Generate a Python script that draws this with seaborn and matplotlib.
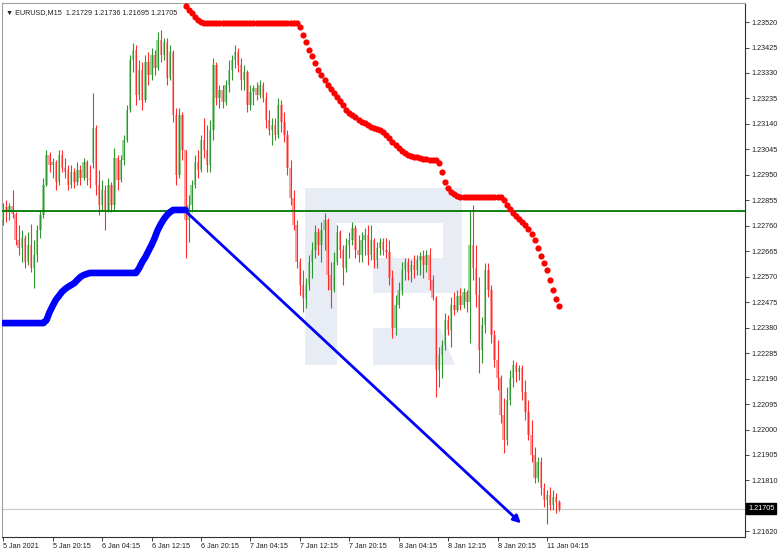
import numpy as np
import pandas as pd
import matplotlib
matplotlib.use("Agg")
import matplotlib.pyplot as plt
import matplotlib.transforms as mtransforms
from matplotlib.patches import Polygon
import seaborn as sns

sns.set_theme(style="white")
plt.rcParams['font.family'] = ['Liberation Sans', 'DejaVu Sans']

# ---------------- data ----------------
header = "\u25BC EURUSD,M15  1.21729 1.21736 1.21695 1.21705"

opens = [1.22781, 1.22830, 1.22811, 1.22834, 1.22804, 1.22707, 1.22677, 1.22714, 1.22625, 1.22688,
         1.22602, 1.22651, 1.22744, 1.22800, 1.22912, 1.23024, 1.22986, 1.22998, 1.22924, 1.23024,
         1.22975, 1.22968, 1.22912, 1.22961, 1.22924, 1.22968, 1.22938, 1.22998, 1.22938, 1.22994,
         1.23124, 1.22912, 1.22837, 1.22893, 1.22819, 1.22912, 1.22837, 1.23013, 1.22931, 1.23005,
         1.23080, 1.23192, 1.23378, 1.23416, 1.23247, 1.23341, 1.23229, 1.23371, 1.23322, 1.23397,
         1.23348, 1.23453, 1.23397, 1.23446, 1.23311, 1.23408, 1.23173, 1.22949, 1.23173, 1.23043,
         1.22781, 1.22837, 1.22912, 1.22998, 1.22968, 1.23080, 1.23043, 1.22986, 1.23117, 1.23360,
         1.23236, 1.23266, 1.23222, 1.23285, 1.23341, 1.23378, 1.23408, 1.23360, 1.23304, 1.23333,
         1.23210, 1.23259, 1.23274, 1.23247, 1.23285, 1.23236, 1.23154, 1.23117, 1.23136, 1.23098,
         1.23210, 1.23147, 1.23098, 1.22975, 1.22863, 1.22763, 1.22625, 1.22539, 1.22490, 1.22539,
         1.22625, 1.22670, 1.22737, 1.22688, 1.22744, 1.22781, 1.22576, 1.22520, 1.22625, 1.22737,
         1.22670, 1.22602, 1.22688, 1.22707, 1.22752, 1.22670, 1.22651, 1.22707, 1.22725, 1.22651,
         1.22707, 1.22632, 1.22677, 1.22700, 1.22670, 1.22662, 1.22565, 1.22378, 1.22464, 1.22520,
         1.22595, 1.22625, 1.22588, 1.22614, 1.22595, 1.22632, 1.22647, 1.22614, 1.22651, 1.22558,
         1.22490, 1.22222, 1.22278, 1.22315, 1.22408, 1.22371, 1.22464, 1.22446, 1.22498, 1.22464,
         1.22513, 1.22475, 1.22688, 1.22602, 1.22502, 1.22297, 1.22390, 1.22595, 1.22520, 1.22352,
         1.22259, 1.22192, 1.22054, 1.21961, 1.22110, 1.22192, 1.22241, 1.22214, 1.22229, 1.22140,
         1.22065, 1.21980, 1.21905, 1.21819, 1.21879, 1.21782, 1.21737, 1.21756, 1.21718, 1.21748,
         1.21729]

highs = [1.22845, 1.22856, 1.22845, 1.22893, 1.22811, 1.22763, 1.22744, 1.22725, 1.22737, 1.22766,
         1.22707, 1.22763, 1.22819, 1.22938, 1.23043, 1.23036, 1.23013, 1.23005, 1.23043, 1.23043,
         1.23013, 1.22986, 1.22986, 1.22975, 1.22998, 1.22986, 1.23013, 1.23005, 1.22986, 1.23255,
         1.23135, 1.22968, 1.22931, 1.22912, 1.22938, 1.22924, 1.23050, 1.23024, 1.23024, 1.23098,
         1.23210, 1.23397, 1.23442, 1.23434, 1.23378, 1.23371, 1.23397, 1.23408, 1.23423, 1.23416,
         1.23483, 1.23490, 1.23460, 1.23460, 1.23434, 1.23416, 1.23199, 1.23199, 1.23184, 1.23043,
         1.22875, 1.22931, 1.23024, 1.23043, 1.23098, 1.23162, 1.23136, 1.23154, 1.23386, 1.23371,
         1.23285, 1.23285, 1.23304, 1.23378, 1.23397, 1.23434, 1.23423, 1.23386, 1.23360, 1.23341,
         1.23285, 1.23285, 1.23296, 1.23304, 1.23296, 1.23259, 1.23192, 1.23162, 1.23162, 1.23236,
         1.23229, 1.23184, 1.23117, 1.23005, 1.22893, 1.22781, 1.22640, 1.22595, 1.22565, 1.22651,
         1.22700, 1.22763, 1.22752, 1.22774, 1.22807, 1.22789, 1.22625, 1.22662, 1.22763, 1.22744,
         1.22688, 1.22714, 1.22737, 1.22774, 1.22763, 1.22725, 1.22737, 1.22752, 1.22763, 1.22763,
         1.22714, 1.22700, 1.22714, 1.22714, 1.22714, 1.22707, 1.22595, 1.22502, 1.22550, 1.22625,
         1.22640, 1.22640, 1.22632, 1.22651, 1.22651, 1.22662, 1.22670, 1.22670, 1.22677, 1.22576,
         1.22498, 1.22308, 1.22334, 1.22435, 1.22427, 1.22494, 1.22513, 1.22520, 1.22528, 1.22528,
         1.22520, 1.22819, 1.22837, 1.22688, 1.22569, 1.22420, 1.22621, 1.22621, 1.22539, 1.22371,
         1.22334, 1.22203, 1.22118, 1.22158, 1.22222, 1.22259, 1.22252, 1.22241, 1.22241, 1.22185,
         1.22110, 1.22036, 1.21935, 1.21898, 1.21898, 1.21800, 1.21774, 1.21786, 1.21774, 1.21763,
         1.21736]

lows = [1.22763, 1.22774, 1.22781, 1.22789, 1.22688, 1.22651, 1.22625, 1.22602, 1.22614, 1.22588,
        1.22528, 1.22625, 1.22714, 1.22789, 1.22909, 1.22961, 1.22938, 1.22893, 1.22912, 1.22961,
        1.22938, 1.22893, 1.22901, 1.22901, 1.22912, 1.22912, 1.22931, 1.22912, 1.22901, 1.22975,
        1.22874, 1.22800, 1.22819, 1.22744, 1.22811, 1.22811, 1.22819, 1.22893, 1.22924, 1.22986,
        1.23072, 1.23184, 1.23333, 1.23210, 1.23229, 1.23192, 1.23222, 1.23285, 1.23304, 1.23322,
        1.23341, 1.23371, 1.23378, 1.23285, 1.23304, 1.23147, 1.22912, 1.22938, 1.23005, 1.22640,
        1.22700, 1.22811, 1.22901, 1.22938, 1.22961, 1.23013, 1.22961, 1.22961, 1.23080, 1.23210,
        1.23199, 1.23199, 1.23210, 1.23259, 1.23304, 1.23348, 1.23333, 1.23266, 1.23266, 1.23184,
        1.23192, 1.23210, 1.23229, 1.23236, 1.23222, 1.23124, 1.23098, 1.23061, 1.23080, 1.23087,
        1.23110, 1.23072, 1.22949, 1.22837, 1.22744, 1.22602, 1.22502, 1.22438, 1.22453, 1.22520,
        1.22565, 1.22640, 1.22651, 1.22625, 1.22670, 1.22520, 1.22453, 1.22513, 1.22614, 1.22640,
        1.22539, 1.22588, 1.22640, 1.22688, 1.22640, 1.22625, 1.22625, 1.22651, 1.22614, 1.22632,
        1.22602, 1.22602, 1.22651, 1.22651, 1.22640, 1.22539, 1.22341, 1.22352, 1.22453, 1.22502,
        1.22558, 1.22558, 1.22550, 1.22565, 1.22576, 1.22576, 1.22565, 1.22588, 1.22520, 1.22483,
        1.22121, 1.22158, 1.22192, 1.22297, 1.22352, 1.22308, 1.22427, 1.22438, 1.22446, 1.22453,
        1.22438, 1.22323, 1.22558, 1.22457, 1.22211, 1.22248, 1.22360, 1.22494, 1.22323, 1.22233,
        1.22147, 1.22024, 1.21912, 1.21942, 1.22091, 1.22158, 1.22177, 1.22185, 1.22110, 1.22036,
        1.21961, 1.21879, 1.21800, 1.21804, 1.21756, 1.21711, 1.21647, 1.21700, 1.21700, 1.21689,
        1.21695]

closes = [1.22830, 1.22811, 1.22834, 1.22804, 1.22707, 1.22677, 1.22714, 1.22625, 1.22688, 1.22602,
          1.22651, 1.22744, 1.22800, 1.22912, 1.23024, 1.22986, 1.22998, 1.22924, 1.23024, 1.22975,
          1.22961, 1.22912, 1.22961, 1.22924, 1.22968, 1.22938, 1.22998, 1.22938, 1.22931, 1.23124,
          1.22912, 1.22837, 1.22893, 1.22819, 1.22912, 1.22837, 1.23013, 1.22931, 1.23005, 1.23080,
          1.23192, 1.23378, 1.23416, 1.23247, 1.23341, 1.23229, 1.23371, 1.23322, 1.23397, 1.23348,
          1.23453, 1.23397, 1.23446, 1.23311, 1.23408, 1.23173, 1.22949, 1.23173, 1.23043, 1.22781,
          1.22837, 1.22912, 1.22998, 1.22968, 1.23080, 1.23043, 1.22986, 1.23117, 1.23360, 1.23236,
          1.23266, 1.23222, 1.23285, 1.23341, 1.23378, 1.23408, 1.23360, 1.23304, 1.23333, 1.23210,
          1.23259, 1.23274, 1.23247, 1.23285, 1.23236, 1.23154, 1.23117, 1.23136, 1.23098, 1.23210,
          1.23147, 1.23098, 1.22975, 1.22863, 1.22763, 1.22625, 1.22539, 1.22490, 1.22539, 1.22625,
          1.22670, 1.22737, 1.22688, 1.22744, 1.22781, 1.22576, 1.22520, 1.22625, 1.22737, 1.22670,
          1.22602, 1.22688, 1.22707, 1.22752, 1.22670, 1.22651, 1.22707, 1.22725, 1.22651, 1.22707,
          1.22632, 1.22677, 1.22700, 1.22670, 1.22662, 1.22565, 1.22378, 1.22464, 1.22520, 1.22595,
          1.22625, 1.22588, 1.22614, 1.22595, 1.22632, 1.22647, 1.22614, 1.22651, 1.22558, 1.22490,
          1.22222, 1.22278, 1.22315, 1.22408, 1.22371, 1.22464, 1.22446, 1.22498, 1.22464, 1.22513,
          1.22475, 1.22688, 1.22602, 1.22502, 1.22297, 1.22390, 1.22595, 1.22520, 1.22352, 1.22259,
          1.22192, 1.22054, 1.21961, 1.22110, 1.22192, 1.22241, 1.22214, 1.22229, 1.22140, 1.22065,
          1.21980, 1.21905, 1.21819, 1.21879, 1.21782, 1.21737, 1.21756, 1.21718, 1.21748, 1.21729,
          1.21705]

# upper band (red dots), starting at bar 59
upper_start = 59
upper_band = [1.23580, 1.23565, 1.23554, 1.23539, 1.23527, 1.23520,
              1.23516, 1.23516, 1.23516, 1.23516, 1.23516, 1.23516, 1.23516, 1.23516, 1.23516, 1.23516,
              1.23516, 1.23516, 1.23516, 1.23516, 1.23516, 1.23516, 1.23516, 1.23516, 1.23516, 1.23516,
              1.23516, 1.23516, 1.23516, 1.23516, 1.23516, 1.23516, 1.23516, 1.23516, 1.23516, 1.23516,
              1.23516,
              1.23501, 1.23471, 1.23445, 1.23416, 1.23393, 1.23367, 1.23341, 1.23322, 1.23304, 1.23285,
              1.23270, 1.23255, 1.23240, 1.23225, 1.23210, 1.23192, 1.23180, 1.23173, 1.23165, 1.23154,
              1.23147, 1.23143, 1.23136, 1.23128, 1.23124, 1.23121, 1.23117, 1.23110, 1.23098, 1.23087,
              1.23072, 1.23061, 1.23050, 1.23039, 1.23031, 1.23024, 1.23020, 1.23016, 1.23016, 1.23013,
              1.23009, 1.23009, 1.23005, 1.23005, 1.23005, 1.22994, 1.22961, 1.22923, 1.22901, 1.22886,
              1.22878, 1.22871, 1.22867,
              1.22867, 1.22867, 1.22867, 1.22867, 1.22867, 1.22867, 1.22867, 1.22867, 1.22867, 1.22867,
              1.22867, 1.22867, 1.22867,
              1.22856, 1.22837, 1.22822, 1.22807, 1.22796, 1.22785, 1.22774, 1.22763, 1.22748, 1.22729,
              1.22707, 1.22677, 1.22647, 1.22621, 1.22595, 1.22558, 1.22520, 1.22487, 1.22461]

# lower band (blue), bars 0..59
lower_band = [1.22397, 1.22397, 1.22397, 1.22397, 1.22397, 1.22397, 1.22397, 1.22397, 1.22397, 1.22397,
              1.22397, 1.22397, 1.22397, 1.22397,
              1.22408, 1.22438, 1.22461, 1.22483, 1.22498, 1.22513, 1.22524, 1.22532, 1.22539, 1.22546,
              1.22558, 1.22569, 1.22576, 1.22580,
              1.22584, 1.22584, 1.22584, 1.22584, 1.22584, 1.22584, 1.22584, 1.22584, 1.22584, 1.22584,
              1.22584, 1.22584, 1.22584, 1.22584, 1.22584, 1.22584,
              1.22602, 1.22625, 1.22643, 1.22666, 1.22688, 1.22714, 1.22744, 1.22766, 1.22785, 1.22800,
              1.22811,
              1.22819, 1.22819, 1.22819, 1.22819, 1.22819]

level_price = 1.22815
last_price = 1.21705
arrow_start = (59.6, 1.22808)
arrow_end = (167.6, 1.21650)

time_labels = ["5 Jan 2021", "5 Jan 20:15", "6 Jan 04:15", "6 Jan 12:15", "6 Jan 20:15",
               "7 Jan 04:15", "7 Jan 12:15", "7 Jan 20:15", "8 Jan 04:15", "8 Jan 12:15",
               "8 Jan 20:15", "11 Jan 04:15"]
time_label_bars = [0, 16, 32, 48, 64, 80, 96, 112, 128, 144, 160, 176]
price_ticks = [1.23520, 1.23425, 1.23330, 1.23235, 1.23140, 1.23045, 1.22950, 1.22855, 1.22760,
               1.22665, 1.22570, 1.22475, 1.22380, 1.22285, 1.22190, 1.22095, 1.22000, 1.21905,
               1.21810, 1.21620]

# ---------------- figure ----------------
W, H = 782, 553
FS = 5.2
fig = plt.figure(figsize=(W / 100, H / 100), dpi=100)
fig.patch.set_facecolor("white")
ax = fig.add_axes([2 / W, 16 / H, 743 / W, 534 / H])
ax.set_facecolor("white")
ax.set_xlim(-0.4, 240.1)
ax.set_ylim(1.21599, 1.23591)

# watermark logo (background decoration, axes-fraction coords from pixel layout)
def px(x, y):
    return ((x - 2) / 743, (537 - y) / 534)

wm_col = "#e8ecf4"
logo_parts = [
    [(305, 188), (462, 188), (462, 223), (305, 223)],
    [(305, 223), (337, 223), (337, 365), (305, 365)],
    [(443, 223), (462, 223), (462, 293), (443, 293)],
    [(373, 258), (443, 258), (443, 293), (373, 293)],
    [(373, 328), (440, 328), (455, 365), (373, 365)],
]
for part in logo_parts:
    ax.add_patch(Polygon([px(*p) for p in part], closed=True, transform=ax.transAxes,
                         facecolor=wm_col, edgecolor="none", zorder=0))

# candles
df = pd.DataFrame({"bar": np.arange(len(closes)), "open": opens, "high": highs,
                   "low": lows, "close": closes})
up = df["close"] >= df["open"]
body_col = np.where(up, "#9ad49a", "#ff9e9e")
wick_col = np.where(up, "#2e962e", "#ff2e2e")
body_h = np.maximum((df["close"] - df["open"]).abs(), 0.00003)
ax.bar(df["bar"], body_h, bottom=np.minimum(df["open"], df["close"]), width=0.8,
       color=body_col, linewidth=0, zorder=3)
ax.vlines(df["bar"], df["low"], df["high"], colors=wick_col, linewidth=0.8, zorder=4)

# horizontal level & current price line
ax.axhline(level_price, color="#007800", linewidth=1.3, zorder=5)
ax.axhline(last_price, color="#c8c8c8", linewidth=0.8, zorder=2)

# lower band (blue)
lower_df = pd.DataFrame({"bar": np.arange(len(lower_band)), "price": lower_band})
sns.lineplot(data=lower_df, x="bar", y="price", color="#0000ff", linewidth=4.8,
             ax=ax, zorder=6, solid_capstyle="round", solid_joinstyle="round")

# upper band (red dots)
upper_df = pd.DataFrame({"bar": np.arange(upper_start, upper_start + len(upper_band)),
                         "price": upper_band})
sns.scatterplot(data=upper_df, x="bar", y="price", color="#ff0000", s=20, linewidth=0,
                ax=ax, zorder=6)

# arrow
ax.annotate("", xy=arrow_end, xytext=arrow_start,
            arrowprops=dict(arrowstyle="-|>", color="#0000ff", lw=2.0, mutation_scale=11,
                            shrinkA=0, shrinkB=0), zorder=7)

# axes styling
ax.set_xlabel("")
ax.set_ylabel("")
ax.yaxis.tick_right()
ax.set_yticks(price_ticks)
ax.set_yticklabels([f"{v:.5f}" for v in price_ticks])
ax.set_xticks(time_label_bars)
ax.set_xticklabels(time_labels, ha="left")
ax.tick_params(axis="y", which="both", right=True, left=False, direction="out", length=3,
               width=0.6, pad=1.5, labelsize=FS, colors="#202020")
ax.tick_params(axis="x", which="both", bottom=True, direction="out", length=3,
               width=0.6, pad=1.5, labelsize=FS, colors="#202020")
for name, sp in ax.spines.items():
    sp.set_visible(True)
    sp.set_linewidth(0.8)
ax.spines["left"].set_color("#a0a0a0")
ax.spines["top"].set_color("#a0a0a0")
ax.spines["right"].set_color("#303030")
ax.spines["bottom"].set_color("#303030")
ax.grid(False)

# header text
ax.text(0.005, 0.988, header, transform=ax.transAxes, va="top", ha="left",
        fontsize=FS, color="#202020", zorder=8)

# current price box on the price scale
trans = mtransforms.blended_transform_factory(ax.transAxes, ax.transData)
ax.text(1.004, last_price, f"{last_price:.5f}", transform=trans, va="center", ha="left",
        fontsize=FS, color="white", zorder=9, clip_on=False,
        bbox=dict(boxstyle="square,pad=0.25", facecolor="black", edgecolor="black"))

fig.savefig("out.png", dpi=100, facecolor="white")
